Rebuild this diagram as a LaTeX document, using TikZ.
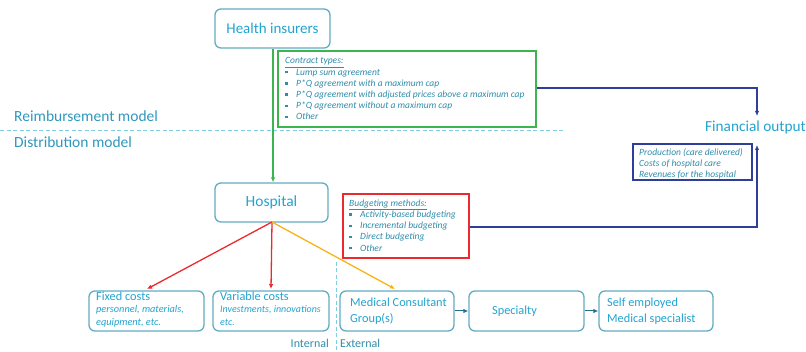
\documentclass[tikz,border=0pt]{standalone}
\usepackage{fontspec}
\setmainfont{Carlito}
\usetikzlibrary{arrows.meta}
\definecolor{ttxt}{HTML}{22A3CF}
\definecolor{ltxt}{HTML}{2F98BC}
\definecolor{itxt}{HTML}{2F8CAA}
\definecolor{bord}{HTML}{62ACC2}
\definecolor{dashc}{HTML}{80CCE0}
\definecolor{cgreen}{HTML}{3DB54F}
\definecolor{cred}{HTML}{EB2A2F}
\definecolor{corange}{HTML}{F6B417}
\definecolor{cnavy}{HTML}{2F3E98}
\definecolor{cdark}{HTML}{24708A}
\newcommand\bul{\makebox[11pt][l]{\rule[1.6pt]{2.4pt}{2.4pt}}}
\tikzset{
  rbox/.style={draw=bord, line width=1.3pt, rounded corners=6pt, inner sep=0pt},
  ttl/.style={text=ttxt, font=\fontsize{13}{15}\selectfont},
  lst/.style={text=itxt, font=\fontsize{9.5}{11.2}\selectfont\itshape, align=left, inner sep=0pt, anchor=north west},
  arr/.style={-{Latex[length=5pt,width=4.5pt]}, line width=1.3pt},
  dline/.style={dashc, line width=1pt, dash pattern=on 4pt off 2.5pt},
}
\begin{document}
\begin{tikzpicture}[x=1pt,y=-1pt]
\useasboundingbox (0,0) rectangle (806,352);
% boxes
\node[rbox, minimum width=115pt, minimum height=39pt, ttl, font=\fontsize{15}{17}\selectfont] (hi) at (272.5,28.5) {Health insurers};
\node[rbox, minimum width=113pt, minimum height=39pt, ttl, font=\fontsize{15.5}{17}\selectfont] (hosp) at (271.5,202.5) {Hospital};
% contract box
\node[draw=cgreen, line width=1.3pt, minimum width=258pt, minimum height=76pt, inner sep=0pt] (ct) at (407,89) {};
\node[lst] (ctt) at (285,57.5) {\underline{Contract types:}\\
\bul Lump sum agreement\\
\bul P*Q agreement with a maximum cap\\
\bul P*Q agreement with adjusted prices above a maximum cap\\
\bul P*Q agreement without a maximum cap\\
\bul Other};
% budgeting box
\node[draw=cred, line width=1.3pt, minimum width=126pt, minimum height=64pt, inner sep=0pt] (bm) at (406,226) {};
\node[lst] (bmt) at (349,199.5) {\underline{Budgeting methods:}\\
\bul Activity-based budgeting\\
\bul Incremental budgeting\\
\bul Direct budgeting\\
\bul Other};
% financial box
\node[draw=cnavy, line width=1.3pt, minimum width=119pt, minimum height=36pt, inner sep=0pt] (fb) at (692.5,162) {};
\node[lst] (fbt) at (639,148) {Production (care delivered)\\Costs of hospital care\\Revenues for the hospital};
\node[text=ttxt, font=\fontsize{15.3}{17}\selectfont, anchor=east, inner sep=0pt] (fo) at (806,127) {Financial output};
\coordinate (fotop) at (757,116);
\coordinate (fobot) at (757,145);
% model labels
\node[text=ltxt, font=\fontsize{15.5}{17}\selectfont, anchor=west, inner sep=0pt] (rm) at (14,116) {Reimbursement model};
\node[text=ltxt, font=\fontsize{15.5}{17}\selectfont, anchor=west, inner sep=0pt] (dm) at (14,142) {Distribution model};
\coordinate (dl1) at (0,131);
\coordinate (dl2) at (565,131);
\draw[dline] (dl1) -- (dl2);
% bottom boxes
\node[rbox, minimum width=115pt, minimum height=40pt] (fc) at (146.5,311) {};
\node[text=ttxt, font=\fontsize{12.3}{13}\selectfont, anchor=north west, inner sep=0pt, align=left] (fct) at (96,291.5) {Fixed costs\\[-0.5pt]{\fontsize{10.3}{12}\selectfont\itshape personnel, materials,}\\[-0.5pt]{\fontsize{10.3}{12}\selectfont\itshape equipment, etc.}};
\node[rbox, minimum width=116pt, minimum height=40pt] (vc) at (271,311) {};
\node[text=ttxt, font=\fontsize{12.3}{13}\selectfont, anchor=north west, inner sep=0pt, align=left] (vct) at (220,291.5) {Variable costs\\[-0.5pt]{\fontsize{10}{12}\selectfont\itshape Investments, innovations}\\[-0.5pt]{\fontsize{10}{12}\selectfont\itshape etc.}};
\node[rbox, minimum width=114pt, minimum height=40pt] (mc) at (397,311) {};
\node[text=ttxt, font=\fontsize{12.3}{16}\selectfont, anchor=west, inner sep=0pt, align=left] (mct) at (350,311) {Medical Consultant\\Group(s)};
\node[rbox, minimum width=115pt, minimum height=40pt] (sp) at (526.5,311) {};
\node[text=ttxt, font=\fontsize{12.3}{13}\selectfont, anchor=west, inner sep=0pt] (spt) at (492,311) {Specialty};
\node[rbox, minimum width=114pt, minimum height=40pt] (se) at (656,311) {};
\node[text=ttxt, font=\fontsize{12.3}{16}\selectfont, anchor=west, inner sep=0pt, align=left] (set) at (607,311) {Self employed\\Medical specialist};
% internal / external
\coordinate (vd1) at (336,262);
\coordinate (vd2) at (336,352);
\draw[dline] (vd1) -- (vd2);
\node[text=itxt, font=\fontsize{12}{14}\selectfont, anchor=east, inner sep=0pt] (int) at (329,343) {Internal};
\node[text=itxt, font=\fontsize{12}{14}\selectfont, anchor=west, inner sep=0pt] (ext) at (340,343) {External};
% connectors
\draw[arr, cgreen] (hi.south -| 273,0) -- (hosp.north -| 273,0);
\draw[arr, cnavy] (ct.east |- 0,88) -| (fotop);
\draw[arr, cnavy] (bm.east |- 0,227) -| (fobot);
\coordinate (hb) at (272,222);
\draw[arr, cred] (hb) -- (147,289);
\draw[arr, cred] (hb) -- (271,289);
\draw[arr, corange] (hb) -- (395,289);
\draw[arr, cdark, line width=1pt] (mc.east) -- (sp.west);
\draw[arr, cdark, line width=1pt] (sp.east) -- (se.west);
\end{tikzpicture}
\end{document}
